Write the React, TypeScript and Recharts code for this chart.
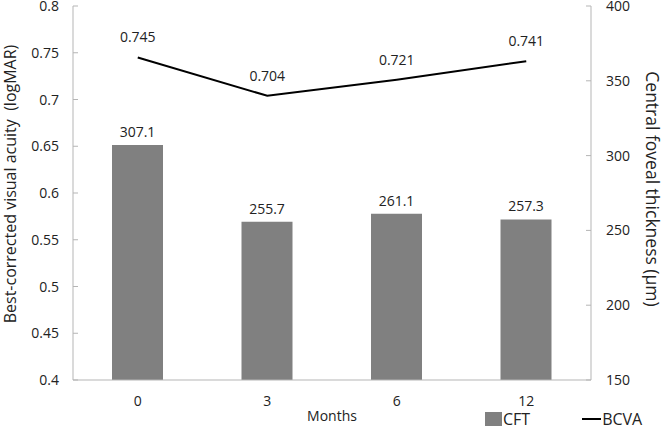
import React from "react";
import {
  ComposedChart,
  Bar,
  Line,
  XAxis,
  YAxis,
  LabelList,
  Legend,
  Label,
} from "recharts";

const months = ["0", "3", "6", "12"];
const cft = [307.1, 255.7, 261.1, 257.3];
const bcva = [0.745, 0.704, 0.721, 0.741];
const leftTicks = [0.4, 0.45, 0.5, 0.55, 0.6, 0.65, 0.7, 0.75, 0.8];
const rightTicks = [150, 200, 250, 300, 350, 400];

const data = months.map((m, i) => ({ month: m, CFT: cft[i], BCVA: bcva[i] }));

const FONT = "'Open Sans', sans-serif";
const TEXT = "#222";
const AXIS = "#b5b5b5";

const LeftTick = (props: any) => {
  const { x, y, payload } = props;
  return (
    <g>
      <line x1={x + 14} x2={x + 19} y1={y} y2={y} stroke={AXIS} strokeWidth={1} />
      <text x={x} y={y} dy={5} textAnchor="end" fill={TEXT} fontSize={14} fontFamily={FONT}>
        {String(payload.value)}
      </text>
    </g>
  );
};

const RightTick = (props: any) => {
  const { x, y, payload } = props;
  return (
    <g>
      <line x1={x - 15} x2={x - 20} y1={y} y2={y} stroke={AXIS} strokeWidth={1} />
      <text x={x} y={y} dy={5} textAnchor="start" fill={TEXT} fontSize={14} fontFamily={FONT}>
        {String(payload.value)}
      </text>
    </g>
  );
};

const LegendContent = (props: any) => {
  const items = [...(props.payload || [])].sort((a: any, b: any) =>
    a.type === "line" ? 1 : b.type === "line" ? -1 : 0
  );
  return (
    <div style={{ display: "flex", alignItems: "center", fontFamily: FONT, fontSize: 16, color: TEXT }}>
      {items.map((p: any, i: number) => (
        <div key={i} style={{ display: "flex", alignItems: "center", marginRight: i === 0 ? 52 : 0 }}>
          {p.type === "line" ? (
            <span style={{ display: "inline-block", width: 19, height: 2, background: p.color }} />
          ) : (
            <span style={{ display: "inline-block", width: 17, height: 14, background: p.color }} />
          )}
          <span style={{ marginLeft: 1 }}>{p.value}</span>
        </div>
      ))}
    </div>
  );
};

export default function App() {
  return (
    <div style={{ position: "absolute", left: 0, top: 0, width: 664, height: 428, background: "#fff" }}>
      <ComposedChart
        width={664}
        height={428}
        data={data}
        margin={{ top: 6, right: 0, bottom: 0, left: 0 }}
        barCategoryGap="30%"
      >
        <XAxis
          dataKey="month"
          height={48}
          tickSize={0}
          tickMargin={16}
          axisLine={{ stroke: AXIS }}
          tickLine={false}
          tick={{ fill: TEXT, fontSize: 14, fontFamily: FONT }}
        >
          <Label value="Months" position="insideBottom" offset={7} fill={TEXT} fontSize={14} fontFamily={FONT} />
        </XAxis>
        <YAxis
          yAxisId="left"
          orientation="left"
          width={73}
          domain={[0.4, 0.8]}
          ticks={leftTicks}
          interval={0}
          tickSize={0}
          tickMargin={14}
          tickLine={false}
          axisLine={{ stroke: AXIS }}
          tick={<LeftTick />}
        >
          <Label
            content={(p: any) => {
              const vb = p.viewBox;
              const cx = vb.x + 10;
              const cy = vb.y + 178;
              return (
                <text
                  x={cx}
                  y={cy}
                  transform={`rotate(-90, ${cx}, ${cy})`}
                  textAnchor="middle"
                  dominantBaseline="central"
                  fill={TEXT}
                  fontSize={16}
                  fontFamily={FONT}
                  style={{ whiteSpace: "pre" }}
                >
                  Best-corrected visual acuity  (logMAR)
                </text>
              );
            }}
          />
        </YAxis>
        <YAxis
          yAxisId="right"
          orientation="right"
          width={73}
          domain={[150, 400]}
          ticks={rightTicks}
          interval={0}
          tickSize={0}
          tickMargin={15}
          tickLine={false}
          axisLine={{ stroke: AXIS }}
          tick={<RightTick />}
        >
          <Label
            content={(p: any) => {
              const vb = p.viewBox;
              const cx = vb.x + 62;
              const cy = vb.y + 183;
              return (
                <text
                  x={cx}
                  y={cy}
                  transform={`rotate(90, ${cx}, ${cy})`}
                  textAnchor="middle"
                  dominantBaseline="central"
                  fill={TEXT}
                  fontSize={17.5}
                  fontFamily={FONT}
                >
                  Central foveal thickness (μm)
                </text>
              );
            }}
          />
        </YAxis>
        <Legend
          layout="horizontal"
          verticalAlign="middle"
          align="center"
          wrapperStyle={{ top: 408, left: 485, width: 179, height: 20 }}
          content={<LegendContent />}
        />
        <Bar yAxisId="right" dataKey="CFT" name="CFT" fill="#808080" barSize={51} isAnimationActive={false} legendType="square">
          <LabelList dataKey="CFT" position="top" offset={8} fill={TEXT} fontSize={14} fontFamily={FONT} />
        </Bar>
        <Line
          yAxisId="left"
          dataKey="BCVA"
          name="BCVA"
          stroke="#000"
          strokeWidth={2}
          dot={false}
          activeDot={false}
          isAnimationActive={false}
          legendType="line"
        >
          <LabelList dataKey="BCVA" position="top" offset={15} fill={TEXT} fontSize={14} fontFamily={FONT} />
        </Line>
      </ComposedChart>
    </div>
  );
}
